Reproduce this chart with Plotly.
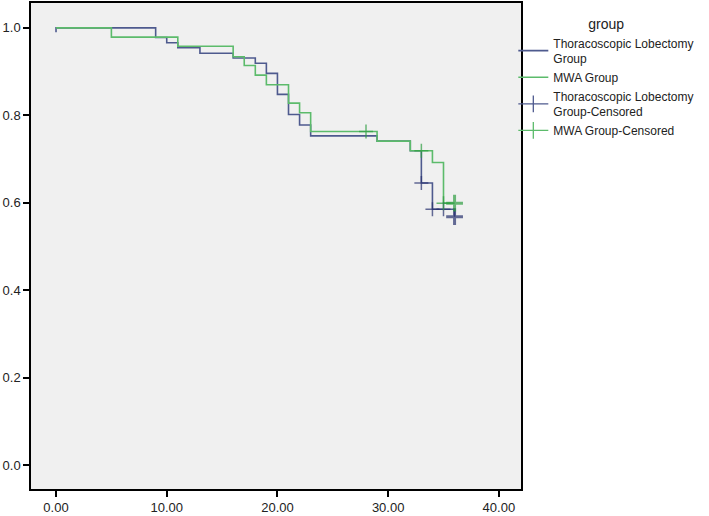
import plotly.graph_objects as go

# Kaplan-Meier step data (time in months, cumulative survival)
tl_time = [0, 0, 9, 10, 11, 13, 16, 18, 19, 20, 21, 22, 23, 29, 32, 33, 34, 36]
tl_surv = [0.99, 1.0, 0.978, 0.966, 0.955, 0.942, 0.931, 0.919, 0.896, 0.848,
           0.802, 0.778, 0.753, 0.741, 0.719, 0.645, 0.585, 0.568]
tl_cens_time = [33, 34, 35, 36]
tl_cens_surv = [0.645, 0.585, 0.585, 0.568]

mwa_time = [0, 5, 11, 16, 17, 18, 19, 21, 22, 23, 29, 32, 34, 35, 36]
mwa_surv = [1.0, 0.979, 0.958, 0.934, 0.914, 0.892, 0.870, 0.828, 0.806,
            0.763, 0.741, 0.719, 0.692, 0.599, 0.599]
mwa_cens_time = [28, 33, 35, 36]
mwa_cens_surv = [0.763, 0.719, 0.599, 0.599]

x_ticks = [0, 10, 20, 30, 40]
y_ticks = [0.0, 0.2, 0.4, 0.6, 0.8, 1.0]

TL_LINE = "#4E5A8E"
MWA_LINE = "#5CBB6B"
TL_MARK = "#27306E"
MWA_MARK = "#2F9E42"
FONT = "Liberation Sans, Arial, sans-serif"

fig = go.Figure()
fig.add_scatter(
    x=tl_time, y=tl_surv, mode="lines", line_shape="hv",
    line=dict(color=TL_LINE, width=1.6),
    name="Thoracoscopic Lobectomy<br>Group",
)
fig.add_scatter(
    x=mwa_time, y=mwa_surv, mode="lines", line_shape="hv",
    line=dict(color=MWA_LINE, width=1.6),
    name="MWA Group",
)
fig.add_scatter(
    x=tl_cens_time, y=tl_cens_surv, mode="markers", showlegend=False,
    marker=dict(symbol="cross-thin", size=[10, 10, 10, 12], color=TL_MARK,
                line=dict(color=TL_MARK, width=[1.5, 1.5, 1.5, 3])),
)
fig.add_scatter(
    x=mwa_cens_time, y=mwa_cens_surv, mode="markers", showlegend=False,
    marker=dict(symbol="cross-thin", size=[10, 10, 10, 12], color=MWA_MARK,
                line=dict(color=MWA_MARK, width=[1.5, 1.5, 1.5, 3])),
)
# legend-only entries: line with a cross, like the SPSS censor key
for name, col in [("Thoracoscopic Lobectomy<br>Group-Censored", TL_LINE),
                  ("MWA Group-Censored", MWA_LINE)]:
    fig.add_scatter(
        x=[None], y=[None], mode="lines+markers", name=name,
        line=dict(color=col, width=1.3),
        marker=dict(symbol="line-ns", size=12, line=dict(color=col, width=1.3)),
    )

axis_common = dict(
    showgrid=False, zeroline=False,
    showline=True, linecolor="black", linewidth=1.5, mirror=True,
    ticks="outside", ticklen=6, tickwidth=1.5, tickcolor="black",
    tickfont=dict(family=FONT, size=13, color="#222222"),
)

fig.update_layout(
    width=709, height=516,
    margin=dict(l=31, r=188, t=3, b=27, autoexpand=False),
    plot_bgcolor="#F0F0F0", paper_bgcolor="white",
    font=dict(family=FONT, size=13, color="#222222"),
    xaxis=dict(range=[-2.26, 42.0], tickvals=x_ticks, tickformat=".2f", **axis_common),
    yaxis=dict(range=[-0.055, 1.057], tickvals=y_ticks, tickformat=".1f", **axis_common),
    legend=dict(
        xref="container", yref="container", x=0.724, y=0.98,
        xanchor="left", yanchor="top",
        title=dict(text="group", side="top center", font=dict(family=FONT, size=14)),
        font=dict(family=FONT, size=12, color="#222222"),
        bgcolor="rgba(0,0,0,0)",
    ),
    showlegend=True,
)

fig.write_html("out.html", config={"displayModeBar": False},
               post_script="document.body.style.margin='0';")
